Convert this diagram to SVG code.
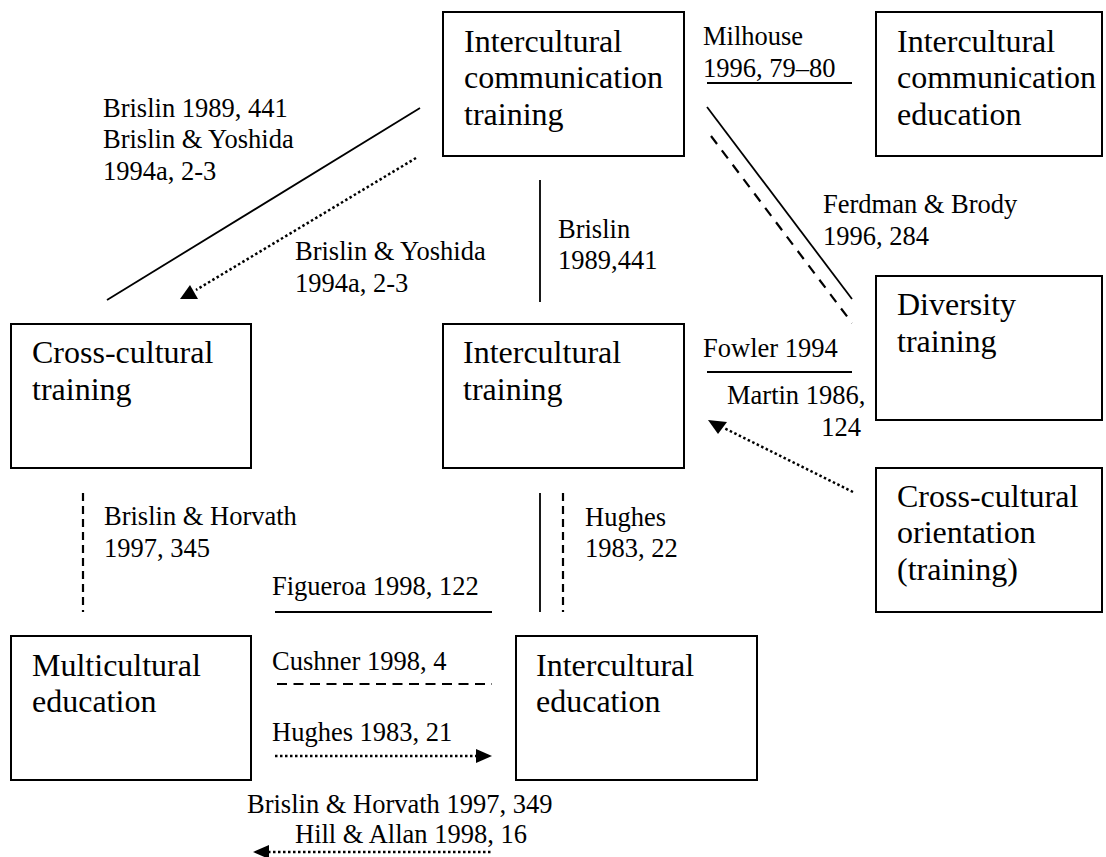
<svg xmlns="http://www.w3.org/2000/svg" width="1106" height="857" viewBox="0 0 1106 857">
<style>
.box{fill:#fff;stroke:#000;stroke-width:2}
.bt{font-family:"Liberation Serif","Times New Roman",serif;font-size:32px;fill:#000}
.lb{font-family:"Liberation Serif","Times New Roman",serif;font-size:26.5px;fill:#000}
.solid{stroke:#000;stroke-width:1.8;fill:none}
.dash{stroke:#000;stroke-width:2.2;fill:none;stroke-dasharray:8 5}
.dashh{stroke:#000;stroke-width:2.2;fill:none;stroke-dasharray:10 6.5}
.dashd{stroke:#000;stroke-width:2.2;fill:none;stroke-dasharray:10 8}
.dot{stroke:#000;stroke-width:2.5;fill:none;stroke-dasharray:2.5 2.5}
.head{fill:#000}
</style>
<rect width="1106" height="857" fill="#fff"/>
<g id="connectors">
<line class="solid" x1="420" y1="108" x2="107" y2="300"/>
<line class="dot" x1="416" y1="158" x2="196" y2="290"/>
<polygon class="head" points="180,299 198,299 190,285"/>
<line class="solid" x1="540" y1="180" x2="540" y2="302"/>
<line class="solid" x1="707" y1="83" x2="852" y2="83"/>
<line class="solid" x1="707" y1="107" x2="852" y2="299"/>
<line class="dashd" x1="711" y1="136" x2="852" y2="323"/>
<line class="solid" x1="707" y1="372" x2="852" y2="372"/>
<line class="dot" x1="853" y1="492" x2="724" y2="428"/>
<polygon class="head" points="708,420 727,422 718,434"/>
<line class="dash" x1="83" y1="493" x2="83" y2="612"/>
<line class="solid" x1="540" y1="493" x2="540" y2="612"/>
<line class="dash" x1="563" y1="493" x2="563" y2="612"/>
<line class="solid" x1="275" y1="612" x2="492" y2="612"/>
<line class="dashh" x1="277" y1="684" x2="492" y2="684"/>
<line class="dot" x1="275" y1="756" x2="477" y2="756"/>
<polygon class="head" points="492,756 476,749 476,763"/>
<line class="dot" x1="268" y1="852" x2="493" y2="852"/>
<polygon class="head" points="253,852 269,845 269,859"/>
</g>
<g id="labels">
<text class="lb" x="103" y="117">Brislin 1989, 441</text>
<text class="lb" x="103" y="148">Brislin &amp; Yoshida</text>
<text class="lb" x="103" y="180">1994a, 2-3</text>
<text class="lb" x="295" y="260">Brislin &amp; Yoshida</text>
<text class="lb" x="295" y="292">1994a, 2-3</text>
<text class="lb" x="558" y="238">Brislin</text>
<text class="lb" x="558" y="269">1989,441</text>
<text class="lb" x="703" y="45">Milhouse</text>
<text class="lb" x="703" y="77">1996, 79–80</text>
<text class="lb" x="823" y="213">Ferdman &amp; Brody</text>
<text class="lb" x="823" y="245">1996, 284</text>
<text class="lb" x="703" y="357">Fowler 1994</text>
<text class="lb" x="727" y="404">Martin 1986,</text>
<text class="lb" x="861" y="436" text-anchor="end">124</text>
<text class="lb" x="104" y="525">Brislin &amp; Horvath</text>
<text class="lb" x="104" y="557">1997, 345</text>
<text class="lb" x="585" y="526">Hughes</text>
<text class="lb" x="585" y="557">1983, 22</text>
<text class="lb" x="272" y="595">Figueroa 1998, 122</text>
<text class="lb" x="272" y="670">Cushner 1998, 4</text>
<text class="lb" x="272" y="741">Hughes 1983, 21</text>
<text class="lb" x="247" y="813">Brislin &amp; Horvath 1997, 349</text>
<text class="lb" x="295" y="843">Hill &amp; Allan 1998, 16</text>
</g>
<g id="node-ic-comm-training">
<rect class="box" x="443" y="12" width="241" height="144"/>
<text class="bt" x="464" y="52">Intercultural</text>
<text class="bt" x="464" y="88">communication</text>
<text class="bt" x="464" y="125">training</text>
</g>
<g id="node-ic-comm-education">
<rect class="box" x="876" y="12" width="226" height="144"/>
<text class="bt" x="897" y="52">Intercultural</text>
<text class="bt" x="897" y="88">communication</text>
<text class="bt" x="897" y="125">education</text>
</g>
<g id="node-diversity-training">
<rect class="box" x="876" y="276" width="226" height="144"/>
<text class="bt" x="897" y="315">Diversity</text>
<text class="bt" x="897" y="352">training</text>
</g>
<g id="node-cross-cultural-training">
<rect class="box" x="11" y="324" width="240" height="144"/>
<text class="bt" x="32" y="363">Cross-cultural</text>
<text class="bt" x="32" y="400">training</text>
</g>
<g id="node-intercultural-training">
<rect class="box" x="443" y="324" width="241" height="144"/>
<text class="bt" x="463" y="363">Intercultural</text>
<text class="bt" x="463" y="400">training</text>
</g>
<g id="node-cross-cultural-orientation">
<rect class="box" x="876" y="468" width="226" height="144"/>
<text class="bt" x="897" y="507">Cross-cultural</text>
<text class="bt" x="897" y="543">orientation</text>
<text class="bt" x="897" y="580">(training)</text>
</g>
<g id="node-multicultural-education">
<rect class="box" x="11" y="636" width="240" height="144"/>
<text class="bt" x="32" y="676">Multicultural</text>
<text class="bt" x="32" y="712">education</text>
</g>
<g id="node-intercultural-education">
<rect class="box" x="516" y="636" width="241" height="144"/>
<text class="bt" x="536" y="676">Intercultural</text>
<text class="bt" x="536" y="712">education</text>
</g>
</svg>
